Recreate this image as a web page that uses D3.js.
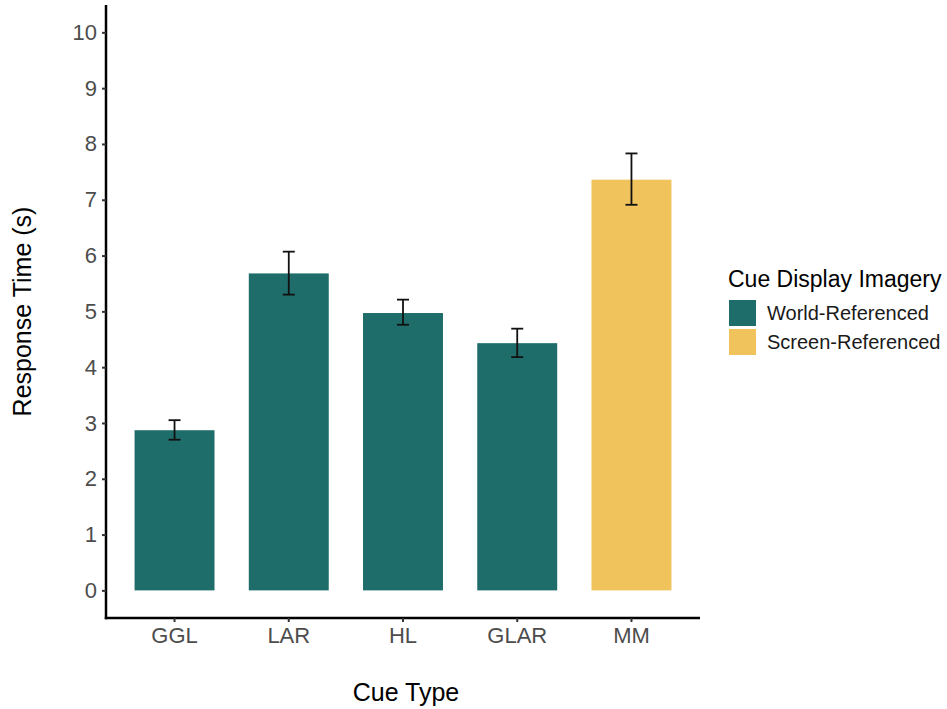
<!DOCTYPE html>
<html>
<head>
<meta charset="utf-8">
<script src="https://cdn.jsdelivr.net/npm/d3@7"></script>
<style>
  body { margin: 0; background: #fff; }
  text { font-family: "Liberation Sans", Arial, Helvetica, sans-serif; }
</style>
</head>
<body>
<svg id="chart" width="947" height="709"></svg>
<script>
// Mean response time per cue type, with error bar bounds
const cueTypes = ["GGL", "LAR", "HL", "GLAR", "MM"];
const meanTime = [2.87, 5.68, 4.97, 4.43, 7.36];
const errLow   = [2.70, 5.30, 4.76, 4.18, 6.91];
const errHigh  = [3.05, 6.07, 5.21, 4.69, 7.83];
const imagery  = ["World-Referenced", "World-Referenced", "World-Referenced", "World-Referenced", "Screen-Referenced"];
const imageryLevels = ["World-Referenced", "Screen-Referenced"];
const imageryColors = ["#1f6d6b", "#f0c35c"];
const yTicks = [0, 1, 2, 3, 4, 5, 6, 7, 8, 9, 10];

const rows = cueTypes.map((c, i) => ({
  cue: c, mean: meanTime[i], lo: errLow[i], hi: errHigh[i], group: imagery[i]
}));

const svg = d3.select("#chart");
const plotLeft = 106, plotRight = 700, plotTop = 5, plotBottom = 618;

const x = d3.scaleBand().domain(cueTypes).range([plotLeft, plotRight])
  .paddingInner(0.3).paddingOuter(0.25);
const y = d3.scaleLinear().domain([-0.495, 10.49]).range([plotBottom, plotTop]);
const color = d3.scaleOrdinal().domain(imageryLevels).range(imageryColors);

// bars
svg.append("g").selectAll("rect").data(rows).join("rect")
  .attr("x", d => x(d.cue))
  .attr("width", x.bandwidth())
  .attr("y", d => y(d.mean))
  .attr("height", d => y(0) - y(d.mean))
  .attr("fill", d => color(d.group));

// error bars
const capHalf = 6;
const eb = svg.append("g").attr("stroke", "#111").attr("stroke-width", 1.8);
rows.forEach(d => {
  const cx = x(d.cue) + x.bandwidth() / 2;
  eb.append("line").attr("x1", cx).attr("x2", cx).attr("y1", y(d.lo)).attr("y2", y(d.hi));
  eb.append("line").attr("x1", cx - capHalf).attr("x2", cx + capHalf).attr("y1", y(d.lo)).attr("y2", y(d.lo));
  eb.append("line").attr("x1", cx - capHalf).attr("x2", cx + capHalf).attr("y1", y(d.hi)).attr("y2", y(d.hi));
});

// axes
const yAxis = svg.append("g").attr("transform", `translate(${plotLeft},0)`)
  .call(d3.axisLeft(y).tickValues(yTicks).tickSize(4).tickPadding(5));
const xAxis = svg.append("g").attr("transform", `translate(0,${plotBottom})`)
  .call(d3.axisBottom(x).tickSize(4).tickPadding(5));

[yAxis, xAxis].forEach(g => {
  g.select(".domain").attr("stroke", "#000").attr("stroke-width", 2.5);
  g.selectAll(".tick line").attr("stroke", "#333").attr("stroke-width", 2);
  g.selectAll(".tick text").attr("fill", "#4d4d4d").style("font-size", "22px")
    .style("font-family", "'Liberation Sans', Arial, sans-serif");
});
yAxis.select(".domain").attr("d", `M0,${plotTop}V${plotBottom + 1.2}`);
xAxis.select(".domain").attr("d", `M${plotLeft - 1.2},0H${plotRight}`);

// axis titles
svg.append("text").attr("x", 406).attr("y", 701).attr("text-anchor", "middle")
  .style("font-size", "25px").attr("fill", "#000").text("Cue Type");
svg.append("text").attr("transform", `translate(31,${(plotTop + plotBottom) / 2}) rotate(-90)`)
  .attr("text-anchor", "middle").style("font-size", "25px").attr("fill", "#000")
  .text("Response Time (s)");

// legend
const lg = svg.append("g").attr("transform", "translate(729,0)");
lg.append("text").attr("x", -1).attr("y", 287).style("font-size", "23px").attr("fill", "#000")
  .text("Cue Display Imagery");
imageryLevels.forEach((lvl, i) => {
  const ky = 300 + i * 29;
  lg.append("rect").attr("x", 0).attr("y", ky).attr("width", 27).attr("height", 26)
    .attr("fill", color(lvl));
  lg.append("text").attr("x", 38).attr("y", ky + 13).attr("dy", "0.35em")
    .style("font-size", "20px").attr("fill", "#1a1a1a").text(lvl);
});
</script>
</body>
</html>
